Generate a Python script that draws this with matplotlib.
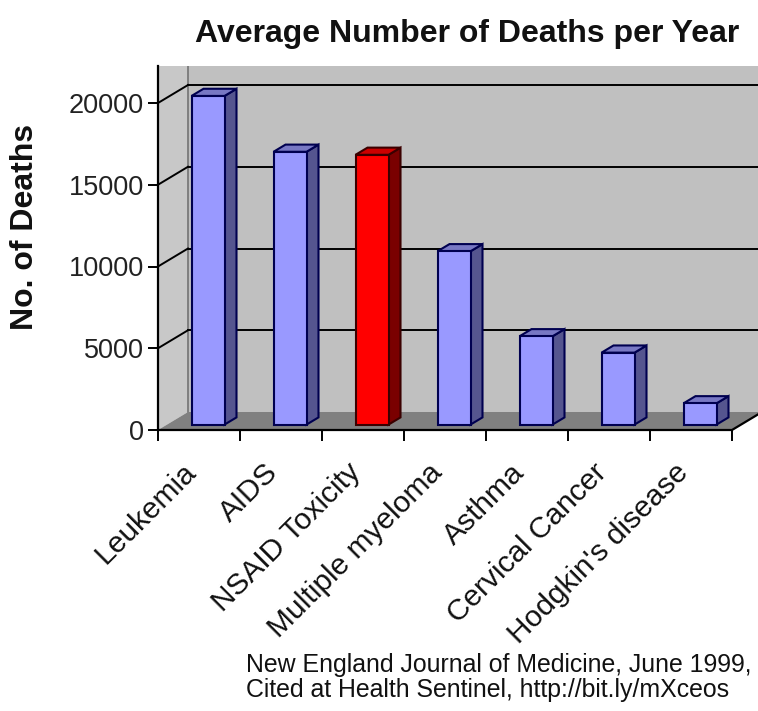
import matplotlib
matplotlib.use("Agg")
import matplotlib.pyplot as plt
from matplotlib.patches import Polygon
from matplotlib.transforms import offset_copy
import numpy as np

categories = ["Leukemia", "AIDS", "NSAID Toxicity", "Multiple myeloma",
              "Asthma", "Cervical Cancer", "Hodgkin's disease"]
deaths = [20100, 16685, 16500, 10600, 5400, 4400, 1300]
highlight = [False, False, True, False, False, False, False]
yticks = [0, 5000, 10000, 15000, 20000]

title = "Average Number of Deaths per Year"
ylabel = "No. of Deaths"
source1 = "New England Journal of Medicine, June 1999,"
source2 = "Cited at Health Sentinel, http://bit.ly/mXceos"

FONT = "Liberation Sans"
W, H = 758, 711
fig = plt.figure(figsize=(W / 100, H / 100), dpi=100)
fig.patch.set_facecolor("white")

# pixel layout of the plot box
px_left, px_right, px_zero, px_top = 158, 758, 430, 66
cat_px = 82.0
val_px = 81.75 / 5000.0
ax = fig.add_axes([px_left / W, (H - px_zero) / H,
                   (px_right - px_left) / W, (px_zero - px_top) / H])
xmax = -0.5 + (px_right - px_left) / cat_px
ytop = (px_zero - px_top) / val_px
ax.set_xlim(-0.5, xmax)
ax.set_ylim(0, ytop)
ax.set_facecolor("none")

DX = 30.0 / cat_px          # depth offset in category units
DY = 18.0 / val_px          # depth offset in value units
n = len(categories)
x0, x1 = -0.5, n - 0.5

# walls
ax.add_patch(Polygon([(x0 + DX, DY), (xmax + 1, DY), (xmax + 1, ytop), (x0 + DX, ytop)],
                     closed=True, facecolor="#c0c0c0", edgecolor="none", zorder=0))
ax.add_patch(Polygon([(x0, 0), (x0 + DX, DY), (x0 + DX, ytop), (x0, ytop)],
                     closed=True, facecolor="#c8c8c8", edgecolor="none", zorder=0))
ax.plot([x0 + DX, x0 + DX], [DY, ytop], color="#7a7a7a", lw=1.3, zorder=1)
# gridlines
for t in yticks[1:]:
    ax.plot([x0 + DX, xmax + 1], [t + DY, t + DY], color="black", lw=1.4, zorder=1,
            clip_on=True)
    ax.plot([x0, x0 + DX], [t, t + DY], color="black", lw=1.4, zorder=1)

# floor
ax.add_patch(Polygon([(x0, 0), (x1, 0), (x1 + DX, DY), (x0 + DX, DY)],
                     closed=True, facecolor="#808080", edgecolor="none", zorder=2))
ax.plot([x0, x1, x1 + DX], [0, 0, DY], color="black", lw=1.6, zorder=6,
        clip_on=False, solid_capstyle="butt")

# bars
BW = 33.0 / cat_px
Z0, BD = 0.3, 0.4
xs = np.arange(n) + Z0 * DX
front = ["#ff0000" if h else "#9999ff" for h in highlight]
side = ["#7a0000" if h else "#55558f" for h in highlight]
top = ["#cc0000" if h else "#7878c4" for h in highlight]
edge = ["#3a0000" if h else "#000050" for h in highlight]
ax.bar(xs, deaths, width=BW, bottom=Z0 * DY, color=front, edgecolor=edge,
       linewidth=1.5, zorder=4)
for i, v in enumerate(deaths):
    xr = xs[i] + BW / 2
    xl = xs[i] - BW / 2
    yb = Z0 * DY
    yt = v + Z0 * DY
    ddx, ddy = BD * DX, BD * DY
    ax.add_patch(Polygon([(xr, yb), (xr + ddx, yb + ddy), (xr + ddx, yt + ddy), (xr, yt)],
                         closed=True, facecolor=side[i], edgecolor=edge[i], lw=1.5, zorder=3))
    ax.add_patch(Polygon([(xl, yt), (xr, yt), (xr + ddx, yt + ddy), (xl + ddx, yt + ddy)],
                         closed=True, facecolor=top[i], edgecolor=edge[i], lw=1.5, zorder=3))

# axes styling
for s in ["top", "right", "bottom"]:
    ax.spines[s].set_visible(False)
ax.spines["left"].set_color("black")
ax.spines["left"].set_linewidth(1.6)
ax.spines["left"].set_zorder(7)
ax.set_yticks(yticks)
ax.set_yticklabels([str(t) for t in yticks], fontsize=19.5, family=FONT, color="#222222")
ax.tick_params(axis="y", direction="out", length=7, width=1.4, pad=3, color="black")
ax.set_xticks(np.arange(n + 1) - 0.5)
ax.set_xticklabels([])
ax.tick_params(axis="x", direction="out", length=8, width=1.4, color="black")

lab_tr = offset_copy(ax.transData, fig=fig, x=-7, y=-38, units="dots")
for i, c in enumerate(categories):
    ax.text(i, 0, c, transform=lab_tr, rotation=45, ha="right", va="center",
            rotation_mode="anchor", fontsize=21.5, family=FONT, color="#111111",
            clip_on=False)

fig.text(467 / W, 1 - 34 / H, title, ha="center", va="center", fontsize=23,
         fontweight="bold", family=FONT, color="#111111")
fig.text(25 / W, 1 - 227 / H, ylabel, ha="center", va="center", rotation=90,
         fontsize=23, fontweight="bold", family=FONT, color="#111111")
fig.text(246 / W, 1 - 672 / H, source1, ha="left", va="baseline", fontsize=17.9,
         family=FONT, color="#111111")
fig.text(246 / W, 1 - 697 / H, source2, ha="left", va="baseline", fontsize=17.9,
         family=FONT, color="#111111")

fig.savefig("out.png", dpi=100, facecolor="white")
